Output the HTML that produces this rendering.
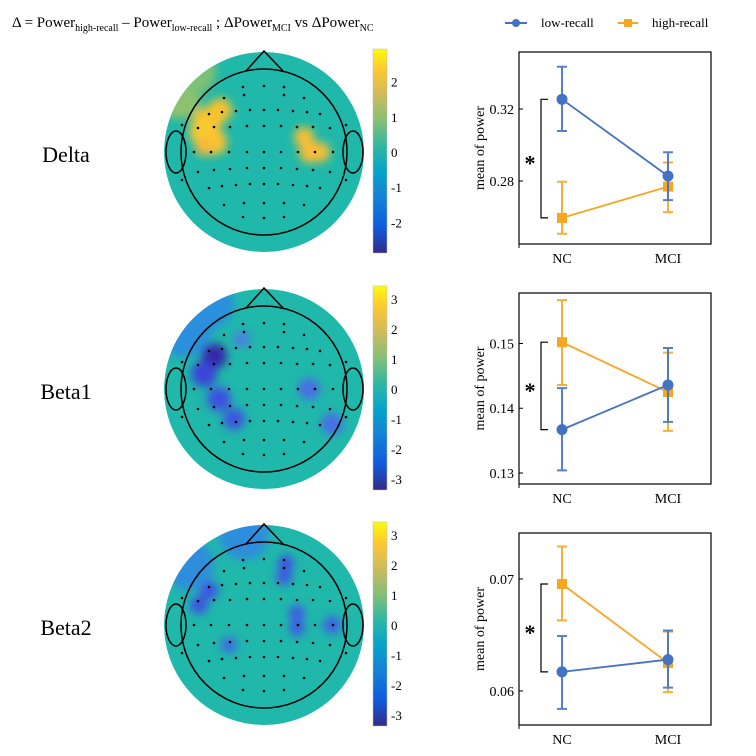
<!DOCTYPE html>
<html><head><meta charset="utf-8"><style>
body{margin:0;background:#fff}
svg{display:block;font-family:"Liberation Serif",serif}
</style></head><body>
<svg id="fig" width="756" height="756" viewBox="0 0 756 756">
<defs>
<linearGradient id="parula" x1="0" y1="1" x2="0" y2="0">
<stop offset="0" stop-color="#352a87"/><stop offset="0.13" stop-color="#0f5cdd"/><stop offset="0.27" stop-color="#1481d6"/><stop offset="0.4" stop-color="#06a4ca"/><stop offset="0.52" stop-color="#2eb7a4"/><stop offset="0.65" stop-color="#87bf77"/><stop offset="0.78" stop-color="#d1bb59"/><stop offset="0.9" stop-color="#fec832"/><stop offset="1" stop-color="#f9fb0e"/>
</linearGradient>
<filter id="blur8" x="-50%" y="-50%" width="200%" height="200%"><feGaussianBlur stdDeviation="4.5"/></filter>
</defs>
<text x="12" y="27" font-size="15">Δ = Power<tspan font-size="10" dy="4">high-recall</tspan><tspan dy="-4"> – Power</tspan><tspan font-size="10" dy="4">low-recall</tspan><tspan dy="-4"> ; ΔPower</tspan><tspan font-size="10" dy="4">MCI</tspan><tspan dy="-4"> vs ΔPower</tspan><tspan font-size="10" dy="4">NC</tspan></text>
<g>
<g><line x1="505" y1="23" x2="527" y2="23" stroke="#4472c4" stroke-width="2"/><circle cx="516" cy="23" r="4" fill="#4472c4"/><text x="541" y="27" font-size="13">low-recall</text></g>
<g><line x1="618" y1="23" x2="638" y2="23" stroke="#f5a623" stroke-width="2"/><rect x="624" y="19" width="8" height="8" fill="#f5a623"/><text x="652" y="27" font-size="13">high-recall</text></g>
</g>
<g id="topos"></g>
<g id="charts"></g>
</svg>
<script>
const NS="http://www.w3.org/2000/svg";
function mk(tag,attrs,parent){const e=document.createElementNS(NS,tag);for(const k in attrs)e.setAttribute(k,attrs[k]);parent.appendChild(e);return e;}

// ---- chart data ----
const groups=["NC","MCI"];
const bandNames=["Delta","Beta1","Beta2"];
const lowMean=[[0.3254,0.2828],[0.1367,0.1436],[0.0617,0.0628]];
const lowErrHi=[[0.3435,0.2960],[0.1431,0.1493],[0.0649,0.0654]];
const lowErrLo=[[0.3078,0.2694],[0.1304,0.1379],[0.0584,0.0603]];
const highMean=[[0.2595,0.2769],[0.1502,0.1425],[0.06955,0.0625]];
const highErrHi=[[0.2796,0.2903],[0.1567,0.1486],[0.0729,0.0653]];
const highErrLo=[[0.2507,0.2627],[0.1436,0.1365],[0.0663,0.0599]];
const yMin=[0.245,0.1283,0.05696];
const yMax=[0.3517,0.1578,0.0741];
const yTicks=[[0.28,0.32],[0.13,0.14,0.15],[0.06,0.07]];
const yTickLabels=[["0.28","0.32"],["0.13","0.14","0.15"],["0.06","0.07"]];
const colorbarTicks=[[2,1,0,-1,-2],[3,2,1,0,-1,-2,-3],[3,2,1,0,-1,-2,-3]];
const colorbarRange=[2.9,3.4,3.4];

const boxTop=[52,293,533],boxBot=[244,484,725];
const boxL=519,boxR=711,xNC=562,xMCI=668;
const charts=document.getElementById('charts');
bandNames.forEach((b,i)=>{
  const g=mk('g',{},charts);
  
  
  const y=v=>boxBot[i]-(v-yMin[i])/(yMax[i]-yMin[i])*(boxBot[i]-boxTop[i]);
  const x=j=>j===0?xNC:xMCI;
  const box=mk('rect',{x:boxL,y:boxTop[i],width:boxR-boxL,height:boxBot[i]-boxTop[i],fill:'none',stroke:'#000','stroke-width':1.2},g);
  
  mk('line',{x1:boxL,y1:boxBot[i],x2:boxL,y2:boxBot[i]+4,stroke:'#000'},g);
  yTicks[i].forEach((t,k)=>{
    mk('line',{x1:boxL,y1:y(t),x2:boxL+4,y2:y(t),stroke:'#000'},g);
    const tl=mk('text',{x:boxL-5,y:y(t)+5,'font-size':14,'text-anchor':'end'},g);tl.textContent=yTickLabels[i][k];
    
  });
  groups.forEach((gn,j)=>{
    const t=mk('text',{x:x(j),y:boxBot[i]+19,'font-size':14,'text-anchor':'middle'},g);t.textContent=gn;
    
  });
  const yl=mk('text',{x:0,y:0,'font-size':14,'text-anchor':'middle',transform:`translate(484,${(boxTop[i]+boxBot[i])/2}) rotate(-90)`},g);
  yl.textContent='mean of power';
  const bt=Math.min(y(lowMean[i][0]),y(highMean[i][0])),bb=Math.max(y(lowMean[i][0]),y(highMean[i][0]));
  const br=mk('path',{d:`M548 ${bt}H541V${bb}H548`,fill:'none',stroke:'#000','stroke-width':1.2},g);
  
  const st=mk('text',{x:530,y:(bt+bb)/2+12,'font-size':22,'text-anchor':'middle','font-weight':'bold'},g);st.textContent='*';
  
  const series=[[highMean,highErrHi,highErrLo,'#f5a623','square','high-recall'],[lowMean,lowErrHi,lowErrLo,'#4472c4','circle','low-recall']];
  series.forEach(([m,hi,lo,c,shape,nm])=>{
    const sg=mk('g',{},g);
    const ln=mk('line',{x1:x(0),y1:y(m[i][0]),x2:x(1),y2:y(m[i][1]),stroke:c,'stroke-width':1.8},sg);
    
    [0,1].forEach(j=>{
      const eb=mk('path',{d:`M${x(j)} ${y(hi[i][j])}V${y(lo[i][j])}M${x(j)-5} ${y(hi[i][j])}h10M${x(j)-5} ${y(lo[i][j])}h10`,stroke:c,'stroke-width':2,fill:'none','opacity':0.9},sg);
      
      let p;
      if(shape==='circle')p=mk('circle',{cx:x(j),cy:y(m[i][j]),r:5.5,fill:c},sg);
      else p=mk('rect',{x:x(j)-5,y:y(m[i][j])-5,width:10,height:10,fill:c},sg);
      
    });
  });
});

// ---- topomaps ----
const headCY=[152,389,625];
const blobsX=[[-57,-50,-62,-44,-60,40,46,56,-85,-70],[-50,-60,-45,-30,-22,45,68,-80,-55],[-55,-65,22,20,33,33,68,-35,-75,-20]];
const blobsY=[[-30,-10,-20,-42,-5,-15,0,0,-55,-80],[-33,-15,10,30,-50,0,35,-60,-85],[-35,-20,-62,-48,-12,3,0,20,-60,-90]];
const blobsR=[[15,13,13,12,9,10,11,10,22,22],[13,13,12,11,8,11,11,28,25],[9,9,8,8,8,8,9,8,25,25]];
const blobsC=[["#fbc22e","#fbc22e","#f9c830","#f9c22e","#f7b83a","#f9bd34","#f9bd34","#f9bd34","#8dc26e","#7ec174"],["#3625a8","#3a45d8","#3c50e0","#3c55e0","#4d7ae6","#4a6de6","#4a6de6","#2c8fdd","#2c8fdd"],["#3f50e4","#3f50e4","#3f50e4","#3f55e4","#3f58e6","#3f58e6","#3f5ee6","#3f68e6","#2f8ddd","#2f8ddd"]];
const elecX=[-21,0,20,-40,-20,20,40,-55,-42,-28,-14,0,14,29,43,56,-66,-50,-34,-17,0,17,33,49,66,-82,82,-70,-53,-35,-17,0,17,34,51,69,-82,82,-66,-50,-34,-17,0,17,33,49,66,-55,-42,-28,-14,0,14,29,43,56,-40,-20,0,20,40,-21,0,20];
const elecY=[-65,-66,-65,-54,-57,-57,-54,-38,-40,-41,-42,-42,-42,-41,-40,-38,-24,-25,-25,-26,-26,-26,-25,-25,-24,-27,-27,0,0,0,0,0,0,0,0,0,28,28,20,18,17,16,16,16,17,18,20,36,34,33,32,32,32,33,34,36,53,51,51,51,53,65,66,65];
const topos=document.getElementById('topos');
bandNames.forEach((b,i)=>{
  const cx=264,cy=headCY[i];
  const g=mk('g',{},topos);
  const lab=mk('text',{x:66,y:cy+10,'font-size':22,'text-anchor':'middle'},g);lab.textContent=b;
  
  const cp=mk('clipPath',{id:'clip'+i},g);mk('circle',{cx,cy,r:100},cp);
  const hg=mk('g',{'clip-path':`url(#clip${i})`},g);
  mk('circle',{cx,cy,r:100,fill:'#1fb8aa'},hg);
  const bg=mk('g',{filter:'url(#blur8)'},hg);
  blobsX[i].forEach((bx,k)=>{
    const c=mk('circle',{cx:cx+bx,cy:cy+blobsY[i][k],r:blobsR[i][k],fill:blobsC[i][k]},bg);
    
  });
  mk('circle',{cx,cy,r:83,fill:'none',stroke:'#000','stroke-width':1.5},g);
  mk('path',{d:`M246 ${cy-81}L264 ${cy-101}L283 ${cy-81}`,fill:'none',stroke:'#000','stroke-width':1.5},g);
  mk('ellipse',{cx:176,cy,rx:10,ry:21,fill:'none',stroke:'#000','stroke-width':1.5},g);
  mk('ellipse',{cx:353,cy,rx:10,ry:21,fill:'none',stroke:'#000','stroke-width':1.5},g);
  elecX.forEach((ex,k)=>{
    const d=mk('circle',{cx:cx+ex,cy:cy+elecY[k],r:1.3,fill:'#000'},g);
    
  });
  const cbT=cy-103,cbB=cy+101;
  const cb=mk('rect',{x:373,y:cbT,width:14,height:cbB-cbT,fill:'url(#parula)',stroke:'#bbb','stroke-width':0.5},g);
  
  const R=colorbarRange[i];
  colorbarTicks[i].forEach(t=>{
    const ty=cy+1-(t/R)*((cbB-cbT)/2);
    const tl=mk('text',{x:391,y:ty+4,'font-size':13},g);tl.textContent=String(t);
    
  });
});
</script>
</body></html>
